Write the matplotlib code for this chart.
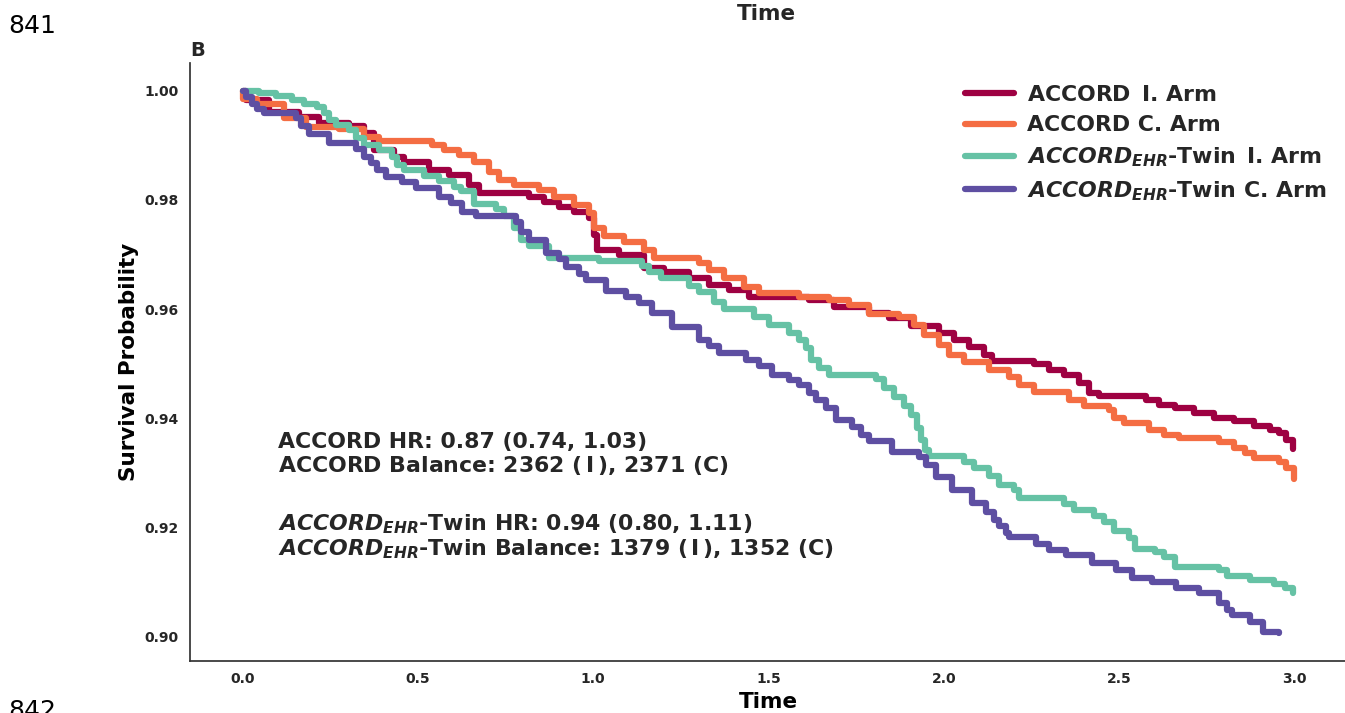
import matplotlib
matplotlib.use("Agg")
import matplotlib.pyplot as plt

# Kaplan-Meier curves (time in years, survival)
accord_i_t = [0.000, 0.009, 0.074, 0.160, 0.217, 0.303, 0.345, 0.374, 0.431, 0.460,
              0.531, 0.588, 0.645, 0.674, 0.816, 0.859, 0.902, 0.945, 0.988, 1.002,
              1.011, 1.073, 1.145, 1.202, 1.273, 1.330, 1.387, 1.444, 1.616, 1.687,
              1.787, 1.844, 1.907, 1.987, 2.030, 2.073, 2.115, 2.138, 2.258, 2.301,
              2.344, 2.387, 2.415, 2.444, 2.578, 2.615, 2.658, 2.715, 2.772, 2.829,
              2.886, 2.929, 2.957, 2.977, 2.995]
accord_i_s = [1.0000, 0.9983, 0.9961, 0.9952, 0.9941, 0.9936, 0.9923, 0.9892, 0.9879, 0.9870,
              0.9855, 0.9846, 0.9828, 0.9813, 0.9806, 0.9796, 0.9787, 0.9778, 0.9767, 0.9736,
              0.9708, 0.9699, 0.9675, 0.9668, 0.9657, 0.9644, 0.9635, 0.9622, 0.9617, 0.9604,
              0.9593, 0.9583, 0.9569, 0.9556, 0.9543, 0.9530, 0.9516, 0.9505, 0.9499, 0.9488,
              0.9479, 0.9464, 0.9446, 0.9440, 0.9433, 0.9424, 0.9418, 0.9409, 0.9400, 0.9394,
              0.9385, 0.9378, 0.9372, 0.9360, 0.9343]

accord_c_t = [0.000, 0.002, 0.040, 0.117, 0.180, 0.274, 0.345, 0.388, 0.540, 0.574, 0.617,
              0.659, 0.702, 0.731, 0.774, 0.845, 0.888, 0.945, 0.988, 1.002, 1.031,
              1.088, 1.145, 1.173, 1.302, 1.330, 1.373, 1.430, 1.473, 1.587, 1.673,
              1.730, 1.787, 1.873, 1.916, 1.944, 1.987, 2.015, 2.058, 2.130, 2.187,
              2.215, 2.258, 2.358, 2.401, 2.472, 2.486, 2.515, 2.586, 2.629, 2.672,
              2.786, 2.829, 2.858, 2.886, 2.957, 2.977, 3.000]
accord_c_s = [1.0000, 0.9985, 0.9976, 0.9950, 0.9934, 0.9930, 0.9916, 0.9908, 0.9901, 0.9892, 0.9883,
              0.9870, 0.9851, 0.9837, 0.9828, 0.9818, 0.9806, 0.9791, 0.9776, 0.9749, 0.9734,
              0.9723, 0.9708, 0.9694, 0.9684, 0.9672, 0.9657, 0.9640, 0.9629, 0.9622, 0.9617,
              0.9607, 0.9591, 0.9585, 0.9571, 0.9552, 0.9534, 0.9516, 0.9503, 0.9488, 0.9475,
              0.9461, 0.9448, 0.9433, 0.9422, 0.9415, 0.9400, 0.9391, 0.9378, 0.9369, 0.9363,
              0.9356, 0.9345, 0.9336, 0.9327, 0.9319, 0.9308, 0.9288]

twin_i_t = [0.000, 0.046, 0.094, 0.140, 0.174, 0.211, 0.231, 0.246, 0.265, 0.303,
            0.323, 0.345, 0.388, 0.425, 0.440, 0.460, 0.517, 0.560, 0.602, 0.622,
            0.659, 0.722, 0.745, 0.774, 0.794, 0.816, 0.874, 1.016, 1.139, 1.159,
            1.193, 1.273, 1.302, 1.345, 1.373, 1.459, 1.502, 1.559, 1.587, 1.607,
            1.621, 1.644, 1.673, 1.807, 1.830, 1.858, 1.887, 1.907, 1.924, 1.935,
            1.947, 1.958, 2.058, 2.087, 2.130, 2.158, 2.201, 2.215, 2.344, 2.372,
            2.429, 2.458, 2.486, 2.529, 2.544, 2.601, 2.629, 2.658, 2.786, 2.809,
            2.872, 2.943, 2.972, 2.995]
twin_i_s = [1.0000, 0.9996, 0.9991, 0.9983, 0.9976, 0.9971, 0.9960, 0.9947, 0.9938, 0.9928,
            0.9914, 0.9901, 0.9892, 0.9879, 0.9864, 0.9855, 0.9844, 0.9835, 0.9824, 0.9817,
            0.9793, 0.9783, 0.9771, 0.9749, 0.9727, 0.9716, 0.9694, 0.9688, 0.9679, 0.9668,
            0.9657, 0.9642, 0.9631, 0.9613, 0.9600, 0.9585, 0.9571, 0.9556, 0.9543, 0.9528,
            0.9506, 0.9492, 0.9479, 0.9472, 0.9455, 0.9439, 0.9422, 0.9406, 0.9382, 0.9360,
            0.9341, 0.9330, 0.9319, 0.9308, 0.9294, 0.9277, 0.9268, 0.9253, 0.9242, 0.9231,
            0.9220, 0.9209, 0.9194, 0.9180, 0.9161, 0.9154, 0.9145, 0.9128, 0.9121, 0.9110,
            0.9103, 0.9097, 0.9088, 0.9079]

twin_c_t = [0.000, 0.011, 0.026, 0.040, 0.060, 0.151, 0.168, 0.188, 0.246, 0.323,
            0.345, 0.365, 0.383, 0.408, 0.454, 0.494, 0.560, 0.594, 0.625, 0.665,
            0.779, 0.794, 0.816, 0.865, 0.902, 0.922, 0.959, 0.979, 1.036, 1.093,
            1.130, 1.168, 1.225, 1.302, 1.330, 1.359, 1.436, 1.473, 1.510, 1.559,
            1.587, 1.616, 1.636, 1.664, 1.693, 1.739, 1.764, 1.787, 1.853, 1.930,
            1.950, 1.978, 2.024, 2.081, 2.121, 2.144, 2.158, 2.178, 2.187, 2.264,
            2.301, 2.349, 2.424, 2.492, 2.538, 2.595, 2.663, 2.729, 2.786, 2.809,
            2.823, 2.872, 2.909, 2.957]
twin_c_s = [1.0000, 0.9989, 0.9976, 0.9967, 0.9960, 0.9950, 0.9936, 0.9921, 0.9905, 0.9894,
            0.9879, 0.9868, 0.9855, 0.9842, 0.9833, 0.9822, 0.9806, 0.9794, 0.9778, 0.9771,
            0.9760, 0.9741, 0.9727, 0.9703, 0.9692, 0.9677, 0.9664, 0.9653, 0.9633, 0.9622,
            0.9611, 0.9593, 0.9567, 0.9543, 0.9532, 0.9519, 0.9506, 0.9495, 0.9479, 0.9470,
            0.9461, 0.9446, 0.9433, 0.9418, 0.9396, 0.9383, 0.9369, 0.9358, 0.9338, 0.9328,
            0.9314, 0.9292, 0.9268, 0.9244, 0.9228, 0.9213, 0.9202, 0.9189, 0.9182, 0.9169,
            0.9158, 0.9149, 0.9134, 0.9121, 0.9108, 0.9099, 0.9088, 0.9079, 0.9061, 0.9048,
            0.9040, 0.9026, 0.9009, 0.9007]

EHR = r"$\mathbfit{ACCORD}_{\mathbfit{EHR}}$"
labels = [r"ACCORD $\,\mathbf{I}$. Arm",
          "ACCORD C. Arm",
          EHR + r"-Twin $\,\mathbf{I}$. Arm",
          EHR + "-Twin C. Arm"]
colors = ["#9e0142", "#f46d43", "#66c2a5", "#5e4fa2"]

x_ticks = [0.0, 0.5, 1.0, 1.5, 2.0, 2.5, 3.0]
y_ticks = [0.90, 0.92, 0.94, 0.96, 0.98, 1.00]

# annotation lines
hr_lines = ["ACCORD HR: 0.87 (0.74, 1.03)",
            r"ACCORD Balance: 2362 ($\,\mathbf{I}\,$), 2371 ($\mathbf{C}$)",
            EHR + "-Twin HR: 0.94 (0.80, 1.11)",
            EHR + r"-Twin Balance: 1379 ($\,\mathbf{I}\,$), 1352 ($\mathbf{C}$)"]

txt = "#262626"
plt.rcParams["font.family"] = "DejaVu Sans"
plt.rcParams["mathtext.fontset"] = "dejavusans"
plt.rcParams["text.color"] = txt

fig = plt.figure(figsize=(13.45, 7.13), dpi=100)
ax = fig.add_axes([190 / 1345, 52 / 713, 1157 / 1345, 598 / 713])

curves = [(accord_i_t, accord_i_s), (accord_c_t, accord_c_s),
          (twin_i_t, twin_i_s), (twin_c_t, twin_c_s)]
for (t, s), lab, col in zip(curves, labels, colors):
    ax.step(t, s, where="post", color=col, lw=4.5, label=lab,
            solid_capstyle="round", solid_joinstyle="round")

ax.set_xlim(-0.15, 3.15)
ax.set_ylim(0.8955, 1.0051)
ax.set_xticks(x_ticks)
ax.set_xticklabels([f"{v:.1f}" for v in x_ticks])
ax.set_yticks(y_ticks)
ax.set_yticklabels([f"{v:.2f}" for v in y_ticks])
ax.tick_params(length=0, labelsize=10, labelcolor=txt, pad=8)
for lab in ax.get_xticklabels() + ax.get_yticklabels():
    lab.set_fontweight("bold")

for side in ["top", "right"]:
    ax.spines[side].set_visible(False)
for side in ["left", "bottom"]:
    ax.spines[side].set_color("#333333")
    ax.spines[side].set_linewidth(1.25)

ax.set_xlabel("Time", fontsize=15.5, fontweight="bold", labelpad=4)
ax.set_ylabel("Survival Probability", fontsize=15.5, fontweight="bold", labelpad=4)
ax.set_title("B", loc="left", fontsize=14, fontweight="bold", pad=5)

ax.legend(loc="upper right", bbox_to_anchor=(0.982, 0.963), frameon=False,
          prop={"size": 15.8, "weight": "bold"}, handlelength=2.2,
          handletextpad=0.6, labelspacing=0.46, borderpad=0, borderaxespad=0)

ys = [0.3562, 0.3161, 0.2191, 0.1773]
for line, y in zip(hr_lines, ys):
    ax.text(0.0763, y, line, transform=ax.transAxes, fontsize=15.8,
            fontweight="bold", va="baseline", ha="left")

# bits of the page around the panel
fig.text(766 / 1345, 1 - 20 / 713, "Time", fontsize=15.5, fontweight="bold",
         ha="center", va="baseline")
fig.text(8 / 1345, 1 - 33 / 713, "841", fontsize=18, color="black", va="baseline")
fig.text(8 / 1345, 1 - 699 / 713, "842", fontsize=18, color="black", va="top")

fig.savefig("out.png", dpi=100)
